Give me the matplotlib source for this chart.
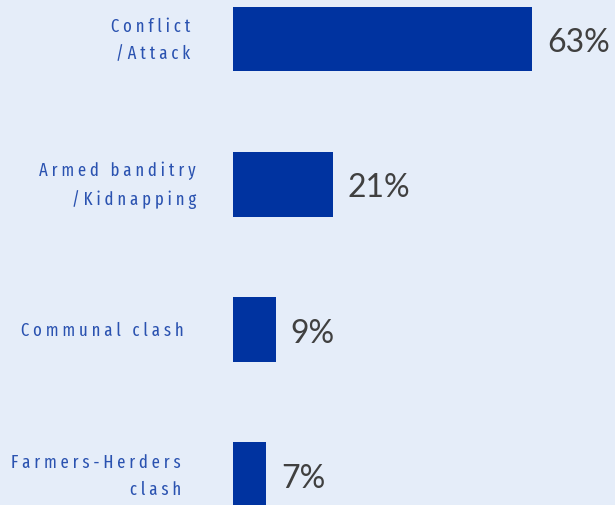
import matplotlib.pyplot as plt
import matplotlib.transforms as mtransforms

# data
categories = ["Conflict\n/Attack", "Armed banditry\n/Kidnapping", "Communal clash", "Farmers-Herders\nclash"]
values = [63, 21, 9, 7]
label_right = [190, 196, 184, 181]   # right edge of labels, px

bg = "#e5edf9"
bar_color = "#0033a0"
label_color = "#2a52b0"
value_color = "#404040"


def spaced(s):
    # wide letter spacing, line by line
    return "\n".join(" ".join(line) for line in s.split("\n"))


fig = plt.figure(figsize=(6.15, 5.06), dpi=100, facecolor=bg)
W, H = 615, 506
ax = fig.add_axes([233 / W, 0, 1 - 233 / W, 1])
ax.set_facecolor(bg)

pos = list(range(len(values)))
ax.barh(pos, values, height=0.447, color=bar_color)
ax.set_xlim(0, (W - 233) / 4.75)
ax.set_ylim((506 - 40) / 145.3, -40 / 145.3)
ax.axis("off")

for p, v, c, r in zip(pos, values, categories, label_right):
    off = mtransforms.ScaledTranslation((r - 233) / 100, 0, fig.dpi_scale_trans)
    ax.text(0, p, spaced(c), transform=mtransforms.blended_transform_factory(ax.transAxes, ax.transData) + off,
            ha="right", va="center", multialignment="right", fontsize=13,
            family=["Fira Sans Extra Condensed", "DejaVu Sans"], color=label_color, linespacing=1.65)
    ax.text(v, p, f"{v}%", ha="left", va="center", fontsize=23, family="Lato",
            color=value_color,
            transform=ax.transData + mtransforms.ScaledTranslation(0.15, -0.03, fig.dpi_scale_trans))

fig.savefig("out.png", dpi=100, facecolor=bg)
